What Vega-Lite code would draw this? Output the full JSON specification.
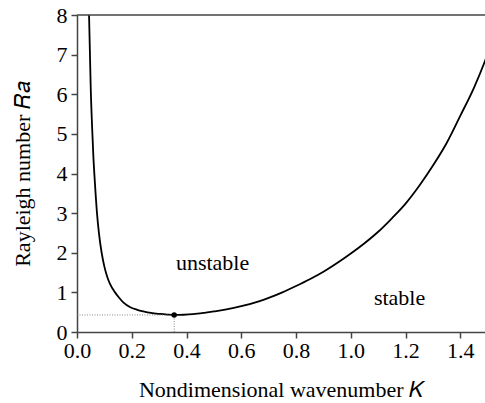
{
  "$schema": "https://vega.github.io/schema/vega-lite/v6.json",
  "width": 408,
  "height": 317,
  "padding": {"left": 11, "top": 4, "right": 0, "bottom": 0},
  "background": "white",
  "config": {
    "view": {"stroke": null},
    "font": "Liberation Serif"
  },
  "datasets": {
    "curve": [
      {"K": 0.044, "Ra": 8.0},
      {"K": 0.046, "Ra": 7.4},
      {"K": 0.048, "Ra": 6.8},
      {"K": 0.050, "Ra": 6.2},
      {"K": 0.055, "Ra": 5.2},
      {"K": 0.060, "Ra": 4.4},
      {"K": 0.066, "Ra": 3.7},
      {"K": 0.073, "Ra": 3.0},
      {"K": 0.080, "Ra": 2.5},
      {"K": 0.090, "Ra": 2.0},
      {"K": 0.100, "Ra": 1.65},
      {"K": 0.110, "Ra": 1.40},
      {"K": 0.120, "Ra": 1.22},
      {"K": 0.139, "Ra": 1.0},
      {"K": 0.151, "Ra": 0.89},
      {"K": 0.170, "Ra": 0.74},
      {"K": 0.193, "Ra": 0.63},
      {"K": 0.220, "Ra": 0.56},
      {"K": 0.242, "Ra": 0.52},
      {"K": 0.270, "Ra": 0.48},
      {"K": 0.303, "Ra": 0.455},
      {"K": 0.330, "Ra": 0.44},
      {"K": 0.355, "Ra": 0.43},
      {"K": 0.390, "Ra": 0.435},
      {"K": 0.424, "Ra": 0.45},
      {"K": 0.470, "Ra": 0.49},
      {"K": 0.500, "Ra": 0.52},
      {"K": 0.546, "Ra": 0.57},
      {"K": 0.600, "Ra": 0.65},
      {"K": 0.667, "Ra": 0.78},
      {"K": 0.700, "Ra": 0.86},
      {"K": 0.750, "Ra": 1.0},
      {"K": 0.800, "Ra": 1.16},
      {"K": 0.850, "Ra": 1.33},
      {"K": 0.900, "Ra": 1.52},
      {"K": 0.950, "Ra": 1.74},
      {"K": 1.000, "Ra": 1.98},
      {"K": 1.050, "Ra": 2.24},
      {"K": 1.100, "Ra": 2.53},
      {"K": 1.150, "Ra": 2.87},
      {"K": 1.200, "Ra": 3.24},
      {"K": 1.250, "Ra": 3.69},
      {"K": 1.300, "Ra": 4.20},
      {"K": 1.350, "Ra": 4.77},
      {"K": 1.400, "Ra": 5.46},
      {"K": 1.450, "Ra": 6.17},
      {"K": 1.490, "Ra": 6.84},
      {"K": 1.500, "Ra": 7.02}
    ],
    "frame": [{"K": 0, "K2": 1.49, "Ra": 8}],
    "hline": [{"K": 0, "K2": 0.355, "Ra": 0.43}],
    "vline": [{"K": 0.355, "Ra": 0, "Ra2": 0.43}],
    "minimum": [{"K": 0.355, "Ra": 0.43}],
    "labels": [
      {"K": 0.495, "Ra": 1.74, "text": "unstable"},
      {"K": 1.178, "Ra": 0.87, "text": "stable"}
    ]
  },
  "encoding": {
    "x": {
      "field": "K", "type": "quantitative",
      "scale": {"domain": [0, 1.49], "nice": false, "zero": false},
      "axis": {
        "values": [0, 0.2, 0.4, 0.6, 0.8, 1.0, 1.2, 1.4],
        "format": ".1f",
        "grid": false,
        "labelOverlap": false,
        "labelFlush": false,
        "domainColor": "#444",
        "domainWidth": 1.5,
        "tickColor": "#444",
        "tickWidth": 1.5,
        "tickSize": 6,
        "labelFont": "Liberation Serif",
        "labelFontSize": 22,
        "labelColor": "black",
        "labelPadding": 2,
        "title": "Nondimensional wavenumber  𝐾",
        "titleFont": "Liberation Serif",
        "titleFontSize": 22,
        "titleFontWeight": "normal",
        "titleColor": "black",
        "titlePadding": 18
      }
    },
    "y": {
      "field": "Ra", "type": "quantitative",
      "scale": {"domain": [0, 8], "nice": false},
      "axis": {
        "values": [0, 1, 2, 3, 4, 5, 6, 7, 8],
        "format": "d",
        "grid": false,
        "labelOverlap": false,
        "labelFlush": false,
        "domainColor": "#444",
        "domainWidth": 1.5,
        "tickColor": "#444",
        "tickWidth": 1.5,
        "tickSize": 6,
        "labelFont": "Liberation Serif",
        "labelFontSize": 22,
        "labelColor": "black",
        "labelPadding": 4,
        "title": "Rayleigh number  𝑅𝑎",
        "titleFont": "Liberation Serif",
        "titleFontSize": 22,
        "titleFontWeight": "normal",
        "titleColor": "black",
        "titlePadding": 22
      }
    }
  },
  "layer": [
    {
      "data": {"name": "curve"},
      "mark": {"type": "line", "color": "black", "strokeWidth": 1.8, "interpolate": "monotone", "clip": true}
    },
    {
      "data": {"name": "frame"},
      "mark": {"type": "rule", "color": "#444", "strokeWidth": 1.5},
      "encoding": {"x2": {"field": "K2"}}
    },
    {
      "data": {"name": "hline"},
      "mark": {"type": "rule", "color": "#666", "strokeWidth": 0.8, "strokeDash": [1, 1.5]},
      "encoding": {"x2": {"field": "K2"}}
    },
    {
      "data": {"name": "vline"},
      "mark": {"type": "rule", "color": "#666", "strokeWidth": 0.8, "strokeDash": [1, 1.5]},
      "encoding": {"y2": {"field": "Ra2"}}
    },
    {
      "data": {"name": "minimum"},
      "mark": {"type": "point", "filled": true, "color": "black", "size": 30, "opacity": 1}
    },
    {
      "data": {"name": "labels"},
      "mark": {"type": "text", "font": "Liberation Serif", "fontSize": 22, "color": "black", "align": "center", "baseline": "middle"},
      "encoding": {"text": {"field": "text"}}
    }
  ]
}
